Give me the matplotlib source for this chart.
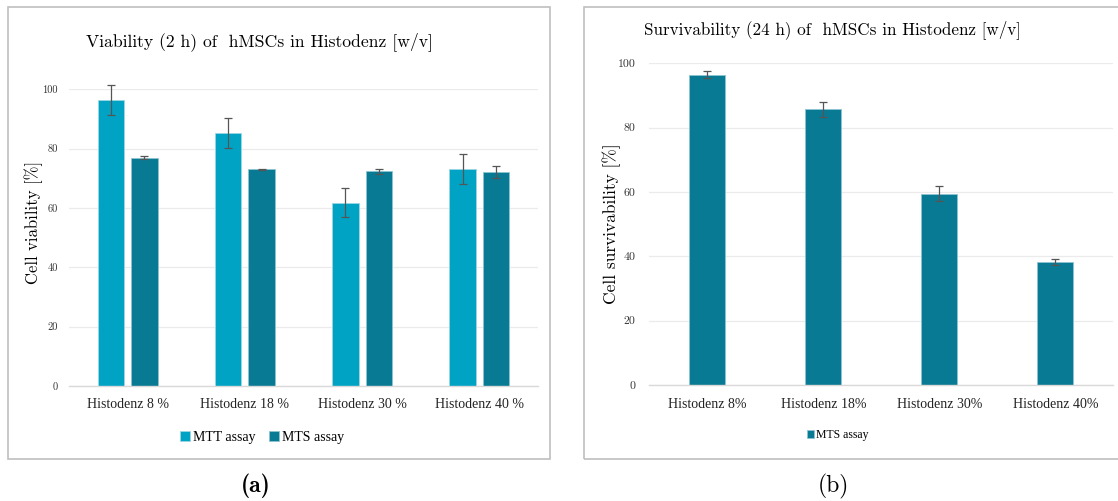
import numpy as np
import matplotlib
matplotlib.use("Agg")
import matplotlib.pyplot as plt
from matplotlib.patches import Rectangle

# Daten (a): Viabilität nach 2 h
cats_a = ["Histodenz 8 %", "Histodenz 18 %", "Histodenz 30 %", "Histodenz 40 %"]
mtt_a = [96.5, 85.2, 61.8, 73.1]
mtt_err_a = [5.0, 5.0, 5.0, 5.0]
mts_a = [77.0, 73.0, 72.3, 72.1]
mts_err_a = [0.6, 0.3, 0.9, 1.9]

# Daten (b): Überlebensfähigkeit nach 24 h
cats_b = ["Histodenz 8%", "Histodenz 18%", "Histodenz 30%", "Histodenz 40%"]
mts_b = [96.4, 85.7, 59.5, 38.3]
mts_err_b = [1.1, 2.4, 2.3, 0.9]

yticks_a = [0, 20, 40, 60, 80, 100]
yticks_b = [0, 20, 40, 60, 80, 100]

c_mtt = "#00A3C4"
c_mts = "#097A93"
c_grid = "#EBEBEB"
c_axis = "#D9D9D9"
c_box = "#BFBFBF"

serif = ["Liberation Serif", "DejaVu Serif"]
cm = ["cmr10", "DejaVu Serif"]

fig = plt.figure(figsize=(11.18, 5.01), dpi=100)

# Rahmen der beiden Excel-Diagramme
for x0, x1 in [(7.5, 549.5), (584, 1130)]:
    fig.patches.append(Rectangle((x0 / 1118, 1 - 458.5 / 501), (x1 - x0) / 1118,
                                 (458.5 - 7) / 501, transform=fig.transFigure,
                                 fill=False, edgecolor=c_box, linewidth=1.2))


def style_axes(ax, ticks, pad, size):
    ax.set_ylim(0, 100)
    ax.set_yticks(ticks)
    ax.set_yticklabels([str(t) for t in ticks], fontfamily=cm, fontsize=size, color="#333333")
    ax.yaxis.grid(True, color=c_grid, linewidth=0.9)
    ax.set_axisbelow(True)
    for s in ["top", "right", "left"]:
        ax.spines[s].set_visible(False)
    ax.spines["bottom"].set_color(c_axis)
    ax.spines["bottom"].set_linewidth(1.0)
    ax.tick_params(axis="both", length=0)
    ax.tick_params(axis="y", pad=pad)
    ax.tick_params(axis="x", pad=9)


# (a)
ax1 = fig.add_axes([69 / 1118, 1 - 386 / 501, 469 / 1118, 296.7 / 501])
x = np.arange(len(cats_a))
w = 0.226
err_kw = dict(ecolor="#555555", elinewidth=0.9, capsize=3, capthick=0.9)
b1 = ax1.bar(x - 0.143, mtt_a, w, color=c_mtt, edgecolor="#9ed7e4", linewidth=0.6,
             label="MTT assay")
b2 = ax1.bar(x + 0.143, mts_a, w, color=c_mts, edgecolor="#8cc4d2", linewidth=0.6,
             label="MTS assay")
e1 = ax1.errorbar(x - 0.143, mtt_a, yerr=mtt_err_a, fmt="none", **err_kw)
e2 = ax1.errorbar(x + 0.143, mts_a, yerr=mts_err_a, fmt="none", **err_kw)
for e in (e1, e2):
    for art in e.lines[1] + e.lines[2]:
        art.set_clip_on(False)
ax1.set_xlim(-0.5, 3.5)
ax1.set_xticks(x)
ax1.set_xticklabels(cats_a, fontfamily=serif, fontsize=10, color="#222222")
style_axes(ax1, yticks_a, 8, 7.5)
ax1.set_ylabel("Cell viability [%]", fontfamily=cm, fontsize=12)
ax1.yaxis.set_label_coords(-0.055, 0.55)
fig.text(259 / 1118, 1 - 42 / 501, "Viability (2 h) of  hMSCs in Histodenz [w/v]",
         ha="center", va="center", fontfamily=cm, fontsize=12.7)
fig.legend(handles=[b1, b2], loc="center", bbox_to_anchor=(262 / 1118, 1 - 437 / 501),
           ncol=2, frameon=False, prop={"family": serif, "size": 10},
           handlelength=0.7, handleheight=0.7, handletextpad=0.2, columnspacing=1.0)
fig.text(256 / 1118, 1 - 486 / 501, "(a)", ha="center", va="center",
         fontfamily=["cmb10", "DejaVu Serif"], fontsize=17, fontweight="bold")

# (b)
ax2 = fig.add_axes([649.3 / 1118, 1 - 385 / 501, 464 / 1118, 321.7 / 501])
xb = np.arange(len(cats_b))
b3 = ax2.bar(xb, mts_b, 0.31, color=c_mts, edgecolor="#8cc4d2", linewidth=0.6,
             label="MTS assay")
e3 = ax2.errorbar(xb, mts_b, yerr=mts_err_b, fmt="none", **err_kw)
ax2.set_xlim(-0.5, 3.5)
ax2.set_xticks(xb)
ax2.set_xticklabels(cats_b, fontfamily=serif, fontsize=10, color="#222222")
style_axes(ax2, yticks_b, 10, 8.5)
ax2.set_ylabel("Cell survivability [%]", fontfamily=cm, fontsize=12.5)
ax2.yaxis.set_label_coords(-0.060, 0.5)
fig.text(832 / 1118, 1 - 30 / 501, "Survivability (24 h) of  hMSCs in Histodenz [w/v]",
         ha="center", va="center", fontfamily=cm, fontsize=12.3)
fig.legend(handles=[b3], loc="center", bbox_to_anchor=(838 / 1118, 1 - 435 / 501),
           frameon=False, prop={"family": serif, "size": 8.5},
           handlelength=0.6, handleheight=0.6, handletextpad=0.2)
fig.text(833 / 1118, 1 - 486 / 501, "(b)", ha="center", va="center",
         fontfamily=cm, fontsize=17)

fig.savefig("out.png", dpi=100)
